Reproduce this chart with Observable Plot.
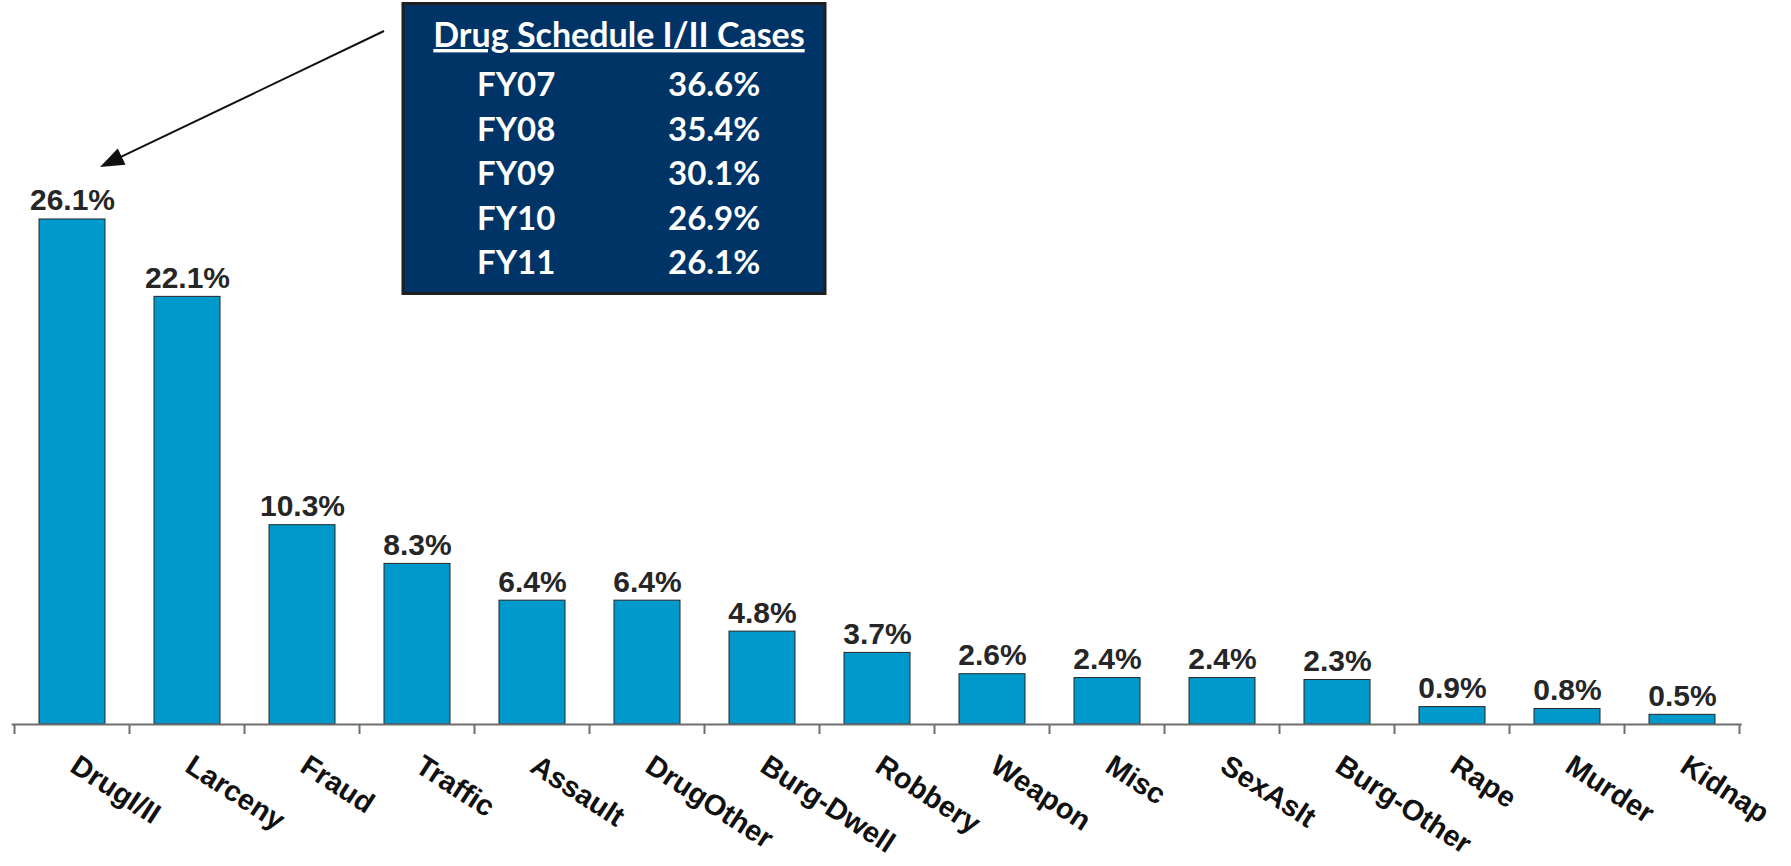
<!DOCTYPE html>
<html><head><meta charset="utf-8">
<script src="https://cdn.jsdelivr.net/npm/d3@7"></script>
<script src="https://cdn.jsdelivr.net/npm/@observablehq/plot@0.6"></script>
<style>html,body{margin:0;padding:0;background:#fff;} svg{display:block}</style>
</head><body><div id="chart"></div>
<script>
const categories = ["DrugI/II","Larceny","Fraud","Traffic","Assault","DrugOther","Burg-Dwell","Robbery","Weapon","Misc","SexAslt","Burg-Other","Rape","Murder","Kidnap"];
const shares = [26.1,22.1,10.3,8.3,6.4,6.4,4.8,3.7,2.6,2.4,2.4,2.3,0.9,0.8,0.5];
const tableTitle = "Drug Schedule I/II Cases";
const fiscalYears = ["FY07","FY08","FY09","FY10","FY11"];
const drugShares = [36.6,35.4,30.1,26.9,26.1];

const data = categories.map((c, i) => ({category: c, share: shares[i]}));
const fmt = v => v.toFixed(1) + "%";

const plot = Plot.plot({
  width: 1791, height: 866,
  marginLeft: 11.7, marginRight: 49.3, marginTop: 27.4, marginBottom: 142,
  style: {background: "white", fontFamily: "'Liberation Sans', Arial, sans-serif"},
  x: {domain: categories, paddingInner: 0.43, paddingOuter: 0.215, axis: null},
  y: {domain: [0, 36], axis: null},
  marks: [
    Plot.barY(data, {x: "category", y: "share", fill: "#0099CC", stroke: "#262626", strokeWidth: 1}),
    Plot.ruleY([0], {stroke: "#6e6e6e", strokeWidth: 2}),
    Plot.text(data, {x: "category", y: "share", text: d => fmt(d.share), lineAnchor: "bottom", dy: -9,
      fontSize: 30, fontWeight: "bold", fill: "#262626"}),
    Plot.text(data, {x: "category", y: 0, text: "category", rotate: 33, textAnchor: "start", lineAnchor: "bottom",
      dx: -4, dy: 46, fontSize: 29, fontWeight: "bold", fill: "#111"})
  ]
});
document.getElementById("chart").appendChild(plot);

const xs = plot.scale("x"), ys = plot.scale("y");
const svg = d3.select(plot);
const gap = (xs.step - xs.bandwidth) / 2;
const y0 = ys.apply(0);
const edges = categories.map(c => xs.apply(c) - gap);
edges.push(xs.apply(categories[categories.length - 1]) + xs.bandwidth + gap);
svg.append("g").selectAll("line").data(edges).join("line")
  .attr("x1", d => d).attr("x2", d => d).attr("y1", y0).attr("y2", y0 + 10)
  .attr("stroke", "#6e6e6e").attr("stroke-width", 2);

// Annotation box
const box = svg.append("g");
box.append("rect").attr("x", 403).attr("y", 3.5).attr("width", 422).attr("height", 290)
  .attr("fill", "#003366").attr("stroke", "#1f1f1f").attr("stroke-width", 3);
const bfont = "Lato, 'Noto Sans', sans-serif";
box.append("text").attr("x", 619).attr("y", 47).attr("text-anchor", "middle")
  .attr("font-family", bfont).attr("font-weight", "bold").attr("font-size", 34)
  .attr("fill", "white").style("text-decoration", "underline").text(tableTitle);
fiscalYears.forEach((fy, i) => {
  const yy = 96 + i * 44.5;
  box.append("text").attr("x", 477).attr("y", yy).attr("text-anchor", "start").attr("font-family", bfont)
    .attr("font-weight", "bold").attr("font-size", 33).attr("fill", "white").text(fy);
  box.append("text").attr("x", 668).attr("y", yy).attr("text-anchor", "start").attr("font-family", bfont)
    .attr("font-weight", "bold").attr("font-size", 33).attr("fill", "white").text(fmt(drugShares[i]));
});

// Arrow from box to first bar's label
const sx = 384, sy = 31;
const tx = xs.apply(categories[0]) + xs.bandwidth / 2 + 28, ty = ys.apply(shares[0]) - 52;
const dxa = tx - sx, dya = ty - sy, L = Math.hypot(dxa, dya);
const ux = dxa / L, uy = dya / L, hl = 24, hw = 9;
const bx = tx - ux * hl, by = ty - uy * hl;
svg.append("line").attr("x1", sx).attr("y1", sy).attr("x2", bx + ux * 2).attr("y2", by + uy * 2)
  .attr("stroke", "#111").attr("stroke-width", 2);
svg.append("path").attr("d", `M${tx},${ty}L${bx - uy * hw},${by + ux * hw}L${bx + uy * hw},${by - ux * hw}Z`)
  .attr("fill", "#111");
</script></body></html>
